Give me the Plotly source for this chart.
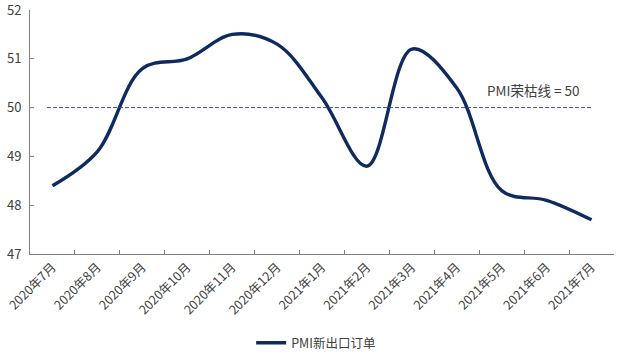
import plotly.graph_objects as go

months = ["2020年7月", "2020年8月", "2020年9月", "2020年10月", "2020年11月", "2020年12月",
          "2021年1月", "2021年2月", "2021年3月", "2021年4月", "2021年5月", "2021年6月", "2021年7月"]
pmi_export = [48.4, 49.1, 50.8, 51.0, 51.5, 51.3, 50.2, 48.8, 51.2, 50.4, 48.3, 48.1, 47.7]
threshold = 50
series_name = "PMI新出口订单"
threshold_label = "PMI荣枯线 = 50"

font_family = "Noto Sans CJK SC, Noto Sans, sans-serif"

fig = go.Figure()
fig.add_trace(go.Scatter(
    x=months, y=pmi_export, mode="lines", name=series_name,
    line=dict(color="#0f2a5f", width=3.4, shape="spline", smoothing=1.0),
))

fig.add_shape(type="line", xref="x", yref="y", x0=-0.12, x1=len(months) - 1, y0=threshold, y1=threshold,
              line=dict(color="#34548a", width=1, dash="4px,2px"))
fig.add_annotation(x=10.71, y=threshold, xref="x", yref="y", text=threshold_label, showarrow=False,
                   yshift=18, font=dict(size=13.5, color="#404040", family=font_family))

fig.update_layout(
    width=622, height=356,
    margin=dict(l=30, r=8, t=10, b=102, autoexpand=False),
    paper_bgcolor="white", plot_bgcolor="white",
    font=dict(family=font_family, size=12, color="#404040"),
    showlegend=True,
    legend=dict(orientation="h", x=0.49, xanchor="center", y=-0.365, yanchor="middle",
                font=dict(size=12.5, color="#404040"), itemwidth=30),
)
fig.update_xaxes(
    type="category", automargin=False,
    range=[-0.5, len(months) - 0.5], tickson="boundaries",
    tickangle=-45, tickfont=dict(size=12.5, color="#404040"),
    showline=True, linecolor="#7f7f7f", linewidth=1,
    ticks="inside", ticklen=4, tickcolor="#7f7f7f", showgrid=False, zeroline=False,
)
fig.update_yaxes(
    range=[47, 52], dtick=1, automargin=False, tickfont=dict(size=13, color="#404040"),
    ticklabeloverflow="allow", ticklabelstandoff=5,
    showline=True, linecolor="#7f7f7f", linewidth=1,
    ticks="inside", ticklen=4, tickcolor="#7f7f7f", showgrid=False, zeroline=False,
)

fig.write_html("out.html", config={"displayModeBar": False},
               post_script="document.body.style.margin='0';document.body.style.overflow='hidden';")
